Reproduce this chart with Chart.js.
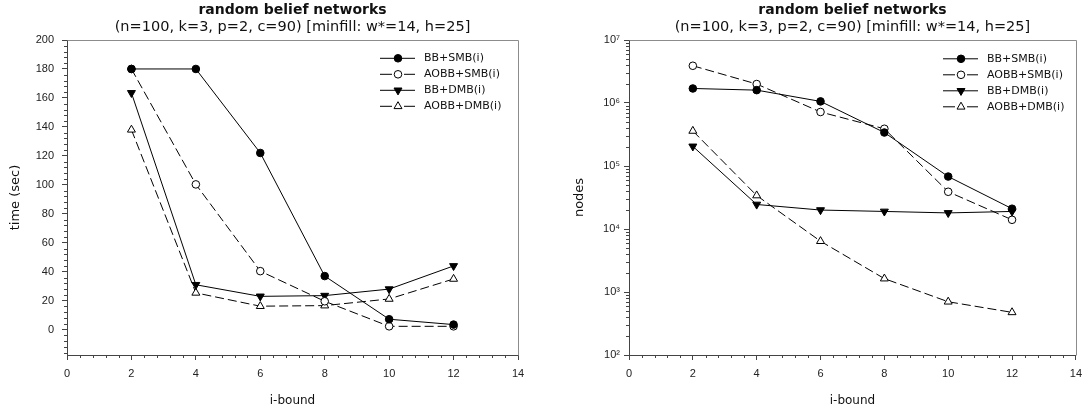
<!DOCTYPE html>
<html><head><meta charset="utf-8">
<script src="https://cdn.jsdelivr.net/npm/chart.js@4.4.1/dist/chart.umd.min.js"></script>
<style>
html,body{margin:0;padding:0;background:#fff;}
#wrap{position:relative;width:1089px;height:412px;overflow:hidden;}
canvas{position:absolute;top:0;}
</style></head><body>
<div id="wrap">
<canvas id="c1" width="545" height="412" style="left:0px"></canvas>
<canvas id="c2" width="544" height="412" style="left:545px"></canvas>
</div>
<script>
// ---------- data ----------
const iBound = [2, 4, 6, 8, 10, 12];
const seriesNames = ['BB+SMB(i)', 'AOBB+SMB(i)', 'BB+DMB(i)', 'AOBB+DMB(i)'];

const timeBBSMB   = [180, 180, 122, 37, 7.2, 3.5];
const timeAOBBSMB = [180, 100.3, 40.4, 19.6, 2.3, 2.3];
const timeBBDMB   = [163.5, 31, 23, 23.5, 28, 44];
const timeAOBBDMB = [138, 25.4, 16.2, 16.6, 21.2, 35];

const nodesBBSMB   = [1.7e6, 1.6e6, 1.06e6, 3.4e5, 6.8e4, 2.1e4];
const nodesAOBBSMB = [3.9e6, 2.0e6, 7.2e5, 3.9e5, 3.9e4, 1.4e4];
const nodesBBDMB   = [2.05e5, 2.45e4, 2.0e4, 1.9e4, 1.8e4, 1.9e4];
const nodesAOBBDMB = [3.6e5, 3.4e4, 6.4e3, 1.63e3, 7.0e2, 4.75e2];

const xTicks = [0, 2, 4, 6, 8, 10, 12, 14];
const timeTicks = [0, 20, 40, 60, 80, 100, 120, 140, 160, 180, 200];
const nodeTicks = [1e2, 1e3, 1e4, 1e5, 1e6, 1e7];
const nodeTickLabels = ['10\u00B2', '10\u00B3', '10\u2074', '10\u2075', '10\u2076', '10\u2077'];

const titleText = 'random belief networks';
const subtitleText = '(n=100, k=3, p=2, c=90) [minfill: w*=14, h=25]';
const xTitle = 'i-bound';
const yTitleTime = 'time (sec)';
const yTitleNodes = 'nodes';

// ---------- styles ----------
const styles = [
  {dash: [], fill: '#000', shape: 'circle', r: 3.8, rot: 0},
  {dash: [9, 4], fill: '#fff', shape: 'circle', r: 3.8, rot: 0},
  {dash: [], fill: '#000', shape: 'triangle', r: 4.6, rot: 180},
  {dash: [9, 4], fill: '#fff', shape: 'triangle', r: 4.6, rot: 0}
];

function makeDatasets(seriesList) {
  return seriesList.map((vals, k) => ({
    label: seriesNames[k],
    data: iBound.map((x, i) => ({x: x, y: vals[i]})),
    borderColor: '#000',
    borderWidth: 1,
    borderDash: styles[k].dash,
    backgroundColor: styles[k].fill,
    pointBackgroundColor: styles[k].fill,
    pointBorderColor: '#000',
    pointBorderWidth: 1,
    pointStyle: styles[k].shape,
    pointRadius: styles[k].r,
    pointRotation: styles[k].rot,
    tension: 0,
    fill: false,
    clip: false
  }));
}

// minor tick positions derived from the major tick arrays
const xMinor = [];
for (let i = 0; i < xTicks.length - 1; i++) {
  const a = xTicks[i], b = xTicks[i + 1];
  for (let j = 1; j < 5; j++) xMinor.push(a + (b - a) * j / 5);
}
const timeMinor = [];
for (let v = -16; v <= 200; v += 4) if (v % 20 !== 0) timeMinor.push(v);
const nodeMinor = [];
for (let d = 0; d < nodeTicks.length - 1; d++)
  for (let k = 2; k <= 9; k++) nodeMinor.push(nodeTicks[d] * k);

// ---------- plugins ----------
const frameTicks = {
  id: 'frameTicks',
  afterDraw(chart, args, opts) {
    const {ctx, chartArea: a} = chart;
    const x = chart.scales.x, y = chart.scales.y;
    const L = Math.round(a.left) + 0.5, R = Math.round(a.right) - 0.5;
    const T = Math.round(a.top) + 0.5, B = Math.round(a.bottom) - 0.5;
    ctx.save();
    ctx.lineWidth = 1;
    ctx.strokeStyle = '#8c8c8c';
    ctx.beginPath();
    ctx.moveTo(L, T); ctx.lineTo(R + 1, T);
    ctx.moveTo(R + 1, T); ctx.lineTo(R + 1, B + 1);
    ctx.stroke();
    ctx.strokeStyle = '#444';
    ctx.beginPath();
    for (const v of opts.xMinor) {
      const px = Math.round(x.getPixelForValue(v)) + 0.5;
      ctx.moveTo(px, a.bottom); ctx.lineTo(px, a.bottom + 3);
    }
    for (const v of opts.yMinor) {
      const py = Math.round(y.getPixelForValue(v)) + 0.5;
      ctx.moveTo(a.left, py); ctx.lineTo(a.left - 3, py);
    }
    ctx.stroke();
    ctx.restore();
  }
};

const lineLegend = {
  id: 'lineLegend',
  afterDraw(chart, args, opts) {
    const ctx = chart.ctx;
    ctx.save();
    chart.data.datasets.forEach((ds, k) => {
      const st = styles[k];
      const yy = opts.y + k * opts.dy;
      ctx.strokeStyle = '#000';
      ctx.lineWidth = 1;
      ctx.setLineDash([]);
      ctx.beginPath();
      if (st.dash.length) {
        ctx.moveTo(opts.x1, yy); ctx.lineTo(opts.mx - 6, yy);
        ctx.moveTo(opts.mx + 6, yy); ctx.lineTo(opts.x2, yy);
      } else {
        ctx.moveTo(opts.x1, yy); ctx.lineTo(opts.x2, yy);
      }
      ctx.stroke();
      ctx.fillStyle = st.fill;
      ctx.beginPath();
      if (st.shape === 'circle') {
        ctx.arc(opts.mx, yy, st.r, 0, Math.PI * 2);
      } else {
        const rot = st.rot * Math.PI / 180;
        for (let j = 0; j < 3; j++) {
          const ang = rot + j * 2 * Math.PI / 3;
          const px = opts.mx + Math.sin(ang) * st.r, py = yy - Math.cos(ang) * st.r;
          if (j === 0) ctx.moveTo(px, py); else ctx.lineTo(px, py);
        }
        ctx.closePath();
      }
      ctx.fill();
      ctx.stroke();
      ctx.fillStyle = '#111';
      ctx.font = '11px "DejaVu Sans"';
      ctx.textAlign = 'left';
      ctx.textBaseline = 'middle';
      ctx.fillText(ds.label, opts.tx, yy);
    });
    ctx.restore();
  }
};

function makeChart(canvasId, cfg) {
  const tickFont = {family: '"Liberation Sans", Arial, sans-serif', size: 11};
  return new Chart(document.getElementById(canvasId), {
    type: 'line',
    data: {datasets: makeDatasets(cfg.series)},
    plugins: [frameTicks, lineLegend],
    options: {
      responsive: false,
      animation: false,
      devicePixelRatio: 1,
      layout: {padding: {left: 0, right: cfg.padRight, top: 0, bottom: 0}},
      plugins: {
        legend: {display: false},
        tooltip: {enabled: false},
        title: {display: true, text: titleText, fullSize: false, color: '#111',
                font: {family: '"DejaVu Sans"', size: 14, weight: 'bold'}, padding: {top: 2, bottom: 0}},
        subtitle: {display: true, text: subtitleText, fullSize: false, color: '#111',
                font: {family: '"DejaVu Sans"', size: 14.5, weight: 'normal'}, padding: {top: 0, bottom: 3.8}},
        frameTicks: {xMinor: xMinor, yMinor: cfg.yMinor},
        lineLegend: cfg.legend
      },
      scales: {
        x: {
          type: 'linear', min: 0, max: 14,
          afterBuildTicks: s => { s.ticks = xTicks.map(v => ({value: v})); },
          afterFit: s => { s.height = 57; },
          grid: {display: true, drawOnChartArea: false, drawTicks: true, tickLength: 5, color: '#444'},
          border: {display: true, color: '#444', width: 1},
          ticks: {font: tickFont, color: '#222', padding: 7, autoSkip: false, maxRotation: 0},
          title: {display: true, text: xTitle, color: '#111', font: {family: '"DejaVu Sans"', size: 12}, padding: {top: 0, bottom: 3.8}}
        },
        y: Object.assign({
          afterFit: s => { s.width = cfg.plotLeft; },
          grid: {display: true, drawOnChartArea: false, drawTicks: true, tickLength: 5, color: '#444'},
          border: {display: true, color: '#444', width: 1},
          ticks: Object.assign({font: tickFont, color: '#222', padding: cfg.yPad, autoSkip: false}, cfg.yTickExtra || {}),
          title: {display: true, text: cfg.yTitle, color: '#111', font: {family: '"DejaVu Sans"', size: 13}, padding: {top: cfg.yTitlePad, bottom: 0}}
        }, cfg.yScale)
      }
    }
  });
}

makeChart('c1', {
  series: [timeBBSMB, timeAOBBSMB, timeBBDMB, timeAOBBDMB],
  padRight: 27, plotLeft: 67, yPad: 8, yTitle: yTitleTime, yTitlePad: 8.2,
  yMinor: timeMinor,
  yScale: {type: 'linear', min: -17.5, max: 200,
           afterBuildTicks: s => { s.ticks = timeTicks.map(v => ({value: v})); }},
  legend: {x1: 380, x2: 415, mx: 398, tx: 424, y: 58.3, dy: 16}
});

makeChart('c2', {
  series: [nodesBBSMB, nodesAOBBSMB, nodesBBDMB, nodesAOBBDMB],
  padRight: 10, plotLeft: 84, yPad: 4, yTitle: yTitleNodes, yTitlePad: 27,
  yMinor: nodeMinor,
  yScale: {type: 'logarithmic', min: 1e2, max: 1e7,
           afterBuildTicks: s => { s.ticks = nodeTicks.map(v => ({value: v})); }},
  yTickExtra: {callback: (v, i) => nodeTickLabels[i]},
  legend: {x1: 398, x2: 433, mx: 416, tx: 442, y: 58.8, dy: 16}
});
</script>
</body></html>
